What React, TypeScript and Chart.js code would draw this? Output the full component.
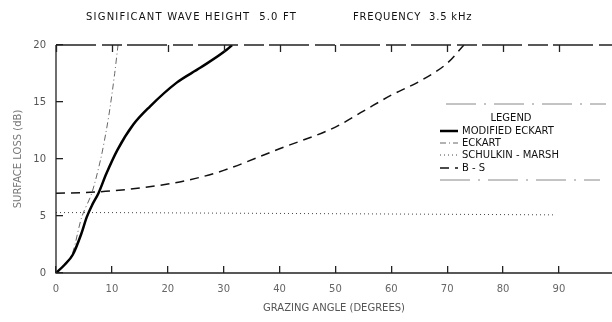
import React, { useEffect, useRef } from "react";
import { Chart, registerables } from "chart.js";

Chart.register(...registerables);

// ---- data ----
const titleLeft = "SIGNIFICANT WAVE HEIGHT  5.0 FT";
const titleRight = "FREQUENCY  3.5 kHz";
const xTitle = "GRAZING ANGLE (DEGREES)";
const yTitle = "SURFACE LOSS (dB)";
const seriesNames = ["MODIFIED ECKART", "ECKART", "SCHULKIN - MARSH", "B - S"];

const modEckartAngle = [0, 1.5, 3, 4.5, 5.5, 6.5, 7.6, 9, 11, 13.8, 16.8, 21.6, 25.8, 30.6, 31.5];
const modEckartLoss = [0, 0.7, 1.6, 3.4, 4.9, 6.0, 7.0, 8.7, 10.8, 13.0, 14.6, 16.7, 18.0, 19.6, 20];

const eckartAngle = [0, 2, 3, 4.6, 6.4, 8.0, 9.0, 9.7, 10.5, 11.1];
const eckartLoss = [0, 1.0, 1.8, 4.9, 7.0, 10.0, 12.5, 14.6, 17.5, 20];

const smAngle = [0, 10, 30, 50, 70, 89];
const smLoss = [5.3, 5.3, 5.25, 5.2, 5.15, 5.1];

const bsAngle = [0, 5, 10, 20, 25, 30, 40, 50, 55, 60, 65, 70, 73];
const bsLoss = [7.0, 7.05, 7.2, 7.8, 8.3, 9.0, 10.9, 12.8, 14.2, 15.6, 16.8, 18.4, 20];

const xTickValues = [0, 10, 20, 30, 40, 50, 60, 70, 80, 90];
const yTickValues = [0, 5, 10, 15, 20];

const xMin = 0;
const xMax = 99.5;
const yMin = 0;
const yMax = 20;

const toPts = (xs: number[], ys: number[]) => xs.map((x, i) => ({ x, y: ys[i] }));

const FONT = "DejaVu Sans";

const framePlugin = {
  id: "frame",
  afterDraw(chart: any) {
    const ctx = chart.ctx;
    const area = chart.chartArea;
    const L = area.left;
    const R = area.right;
    const T = area.top;
    const B = area.bottom;
    const xPix = (v: number) => L + ((v - xMin) / (xMax - xMin)) * (R - L);
    ctx.save();
    ctx.setLineDash([]);
    ctx.strokeStyle = "#222";
    ctx.lineWidth = 1.3;
    ctx.beginPath();
    ctx.moveTo(L, T);
    ctx.lineTo(L, B);
    ctx.lineTo(R, B);
    ctx.stroke();
    // top inward ticks
    ctx.beginPath();
    for (let i = 0; i < xTickValues.length; i++) {
      const px = Math.round(xPix(xTickValues[i])) + 0.5;
      ctx.moveTo(px, T);
      ctx.lineTo(px, T + 7);
    }
    ctx.stroke();
    ctx.setLineDash([40, 6, 20, 5]);
    ctx.beginPath();
    ctx.moveTo(L, T);
    ctx.lineTo(R, T);
    ctx.stroke();
    ctx.setLineDash([]);
    // title
    ctx.fillStyle = "#111";
    ctx.font = `10px "${FONT}"`;
    ctx.letterSpacing = "1.2px";
    ctx.textBaseline = "middle";
    ctx.textAlign = "left";
    ctx.fillText(titleLeft, 86, 17);
    ctx.letterSpacing = "0.8px";
    ctx.fillText(titleRight, 353, 17);
    ctx.letterSpacing = "0px";

    // legend
    const lx0 = 440;
    const lx1 = 458;
    const tx = 462;
    ctx.strokeStyle = "#888";
    ctx.lineWidth = 1;
    ctx.setLineDash([30, 8, 2, 8]);
    ctx.beginPath();
    ctx.moveTo(446, 104);
    ctx.lineTo(606, 104);
    ctx.moveTo(440, 180);
    ctx.lineTo(600, 180);
    ctx.stroke();
    ctx.setLineDash([]);
    ctx.fillStyle = "#111";
    ctx.textAlign = "center";
    ctx.font = `10px "${FONT}"`;
    ctx.fillText("LEGEND", 511, 118);
    ctx.textAlign = "left";
    const rows = [131, 143, 155, 168];
    chart.data.datasets.forEach((ds: any, i: number) => {
      const y = rows[i];
      ctx.strokeStyle = ds.borderColor;
      ctx.lineWidth = ds.borderWidth;
      ctx.setLineDash(ds.borderDash || []);
      ctx.beginPath();
      ctx.moveTo(lx0, y);
      ctx.lineTo(lx1, y);
      ctx.stroke();
      ctx.setLineDash([]);
      ctx.fillText(ds.label, tx, y);
    });
    ctx.restore();
  },
};

export default function App() {
  const ref = useRef<HTMLCanvasElement | null>(null);
  useEffect(() => {
    document.body.style.margin = "0";
    if (!ref.current) return;
    const chart = new Chart(ref.current, {
      type: "line",
      data: {
        datasets: [
          {
            label: seriesNames[0],
            data: toPts(modEckartAngle, modEckartLoss),
            borderColor: "#000",
            borderWidth: 2.5,
            pointRadius: 0,
            cubicInterpolationMode: "monotone",
          },
          {
            label: seriesNames[1],
            data: toPts(eckartAngle, eckartLoss),
            borderColor: "#666",
            borderWidth: 1,
            borderDash: [6, 3, 1, 3],
            pointRadius: 0,
            tension: 0.3,
          },
          {
            label: seriesNames[2],
            data: toPts(smAngle, smLoss),
            borderColor: "#444",
            borderWidth: 1,
            borderDash: [1, 3],
            pointRadius: 0,
          },
          {
            label: seriesNames[3],
            data: toPts(bsAngle, bsLoss),
            borderColor: "#111",
            borderWidth: 1.5,
            borderDash: [9, 6],
            pointRadius: 0,
            cubicInterpolationMode: "monotone",
          },
        ],
      } as any,
      options: {
        animation: false,
        responsive: true,
        maintainAspectRatio: false,
        layout: { padding: { top: 45, left: 0, right: 0, bottom: 0 } },
        plugins: { legend: { display: false }, title: { display: false }, tooltip: { enabled: false } },
        scales: {
          x: {
            type: "linear",
            min: xMin,
            max: xMax,
            grid: {
              display: true,
              drawOnChartArea: false,
              drawTicks: true,
              tickLength: -7,
              color: "#222",
              lineWidth: 1.3,
            },
            border: { display: false },
            afterBuildTicks: (s: any) => {
              s.ticks = xTickValues.map((value) => ({ value }));
            },
            ticks: {
              padding: 17,
              color: "#666",
              font: { family: FONT, size: 10 },
            },
            title: {
              display: true,
              text: xTitle,
              color: "#555",
              font: { family: FONT, size: 10 },
              padding: { top: 0, bottom: 8 },
            },
            afterFit: (s: any) => {
              s.height = 49;
            },
          },
          y: {
            min: yMin,
            max: yMax,
            grid: {
              display: true,
              drawOnChartArea: false,
              drawTicks: true,
              tickLength: -7,
              color: "#222",
              lineWidth: 1.3,
            },
            border: { display: false },
            afterBuildTicks: (s: any) => {
              s.ticks = yTickValues.map((value) => ({ value }));
            },
            ticks: {
              padding: 17,
              color: "#555",
              font: { family: FONT, size: 10 },
            },
            title: {
              display: true,
              text: yTitle,
              color: "#777",
              font: { family: FONT, size: 10 },
              padding: { top: 12, bottom: 0 },
            },
            afterFit: (s: any) => {
              s.width = 56;
            },
          },
        },
      } as any,
      plugins: [framePlugin],
    });
    return () => chart.destroy();
  }, []);
  return (
    <div style={{ width: 612, height: 322, position: "relative" }}>
      <canvas ref={ref} />
    </div>
  );
}
